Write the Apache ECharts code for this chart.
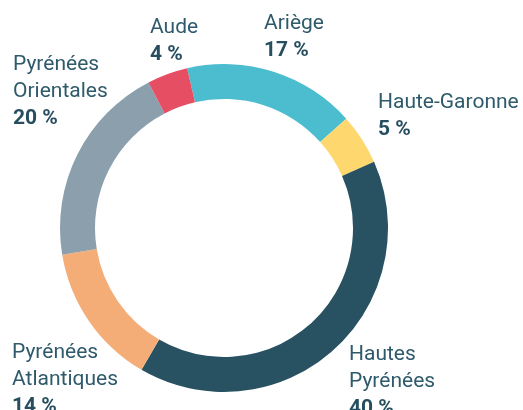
<!DOCTYPE html>
<html>
<head>
<meta charset="utf-8">
<script src="https://cdn.jsdelivr.net/npm/echarts@6/dist/echarts.min.js"></script>
<style>
  html, body { margin: 0; padding: 0; background: #ffffff; }
  #chart { width: 523px; height: 410px; }
</style>
</head>
<body>
<div id="chart"></div>
<script>
// Répartition par département (en %)
const departements = ['Ariège', 'Haute-Garonne', 'Hautes\nPyrénées', 'Pyrénées\nAtlantiques', 'Pyrénées\nOrientales', 'Aude'];
const parts = [17, 5, 40, 14, 20, 4];
const couleurs = ['#4bbdcf', '#fed86f', '#285162', '#f5ad78', '#8b9fad', '#e64e63'];

// Top-left corner of each label block
const labelPos = [
  [264, 10], [378, 89], [349, 341], [12, 339], [13, 51], [150, 14]
];

const chart = echarts.init(document.getElementById('chart'), null, { renderer: 'canvas' });

chart.setOption({
  animation: false,
  series: [{
    type: 'pie',
    center: [224, 228],
    radius: [129, 164],
    startAngle: 103,
    clockwise: true,
    avoidLabelOverlap: false,
    silent: true,
    data: departements.map((name, i) => ({
      name: name,
      value: parts[i],
      itemStyle: { color: couleurs[i] }
    })),
    label: {
      show: true,
      position: 'outside',
      formatter: p => '{n|' + p.name.split('\n').join('}\n{n|') + '}\n{v|' + p.value + ' %}',
      rich: {
        n: { fontFamily: 'Roboto', fontSize: 21, lineHeight: 27, color: '#2e5a6b', align: 'left' },
        v: { fontFamily: 'Roboto', fontSize: 21, lineHeight: 27, fontWeight: 'bold', color: '#264e5f', align: 'left' }
      }
    },
    labelLine: { show: false },
    labelLayout: function (params) {
      const pos = labelPos[params.dataIndex];
      return { x: pos[0], y: pos[1], align: 'left', verticalAlign: 'top' };
    }
  }]
});
</script>
</body>
</html>
